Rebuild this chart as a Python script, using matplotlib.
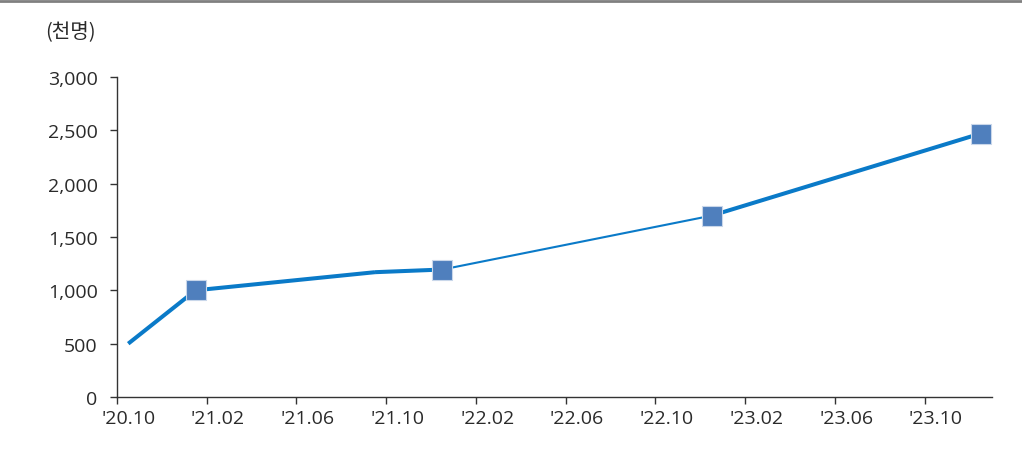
import pandas as pd
import matplotlib
matplotlib.use("Agg")
import matplotlib.pyplot as plt

plt.rcParams["font.family"] = ["Open Sans", "Noto Sans CJK KR", "DejaVu Sans"]

# data (thousand persons)
periods = ["2020-10", "2021-01", "2021-09", "2021-12", "2022-12", "2023-12"]
values = [500, 1000, 1170, 1195, 1700, 2470]
has_marker = [False, True, False, True, True, True]
seg_thick = [True, True, True, False, True]

tick_labels = ["'20.10", "'21.02", "'21.06", "'21.10", "'22.02",
               "'22.06", "'22.10", "'23.02", "'23.06", "'23.10"]
y_ticks = [0, 500, 1000, 1500, 2000, 2500, 3000]

LINE = "#0a7ac8"
MARK = "#4f7fbd"
TXT = "#2a2a2a"

start = pd.Period("2020-10", freq="M")
xs = [(pd.Period(p, freq="M") - start).n + 0.5 for p in periods]

fig = plt.figure(figsize=(10.22, 4.56), dpi=100)
ax = fig.add_axes([0.1145, 0.1272, 0.8561, 0.7018])

for i, thick in enumerate(seg_thick):
    ax.plot(xs[i:i + 2], values[i:i + 2], color=LINE,
            lw=2.9 if thick else 1.5, solid_capstyle="butt", zorder=2)

mx = [x for x, m in zip(xs, has_marker) if m]
my = [v for v, m in zip(values, has_marker) if m]
ax.plot(mx, my, ls="none", marker="s", ms=14, color=MARK,
        mec="#c9d7ea", mew=0.8, zorder=3)

ax.set_xlim(0, 39)
ax.set_ylim(0, 3000)
# tick marks sit between months, labels sit in the middle of the month
ax.set_xticks(range(0, 37, 4))
ax.set_xticklabels([])
ax.set_xticks([t + 0.5 for t in range(0, 37, 4)], minor=True)
ax.set_xticklabels(tick_labels, minor=True)
ax.set_yticks(y_ticks)
ax.set_yticklabels([f"{v:,}" for v in y_ticks])

for s in ["top", "right"]:
    ax.spines[s].set_visible(False)
for s in ["left", "bottom"]:
    ax.spines[s].set_color("#333333")
    ax.spines[s].set_linewidth(1.0)
ax.tick_params(axis="both", direction="out", length=5, width=1.0,
               color="#333333", labelsize=14, labelcolor=TXT)
ax.tick_params(axis="x", which="minor", length=0, pad=9,
               labelsize=14, labelcolor=TXT)
ax.tick_params(axis="y", pad=9)

fig.text(45 / 1022, 1 - 33 / 456, "(천명)", fontsize=14.5, color=TXT,
         ha="left", va="center", family=["Noto Sans CJK KR", "DejaVu Sans"])
fig.add_artist(plt.Line2D([0, 1], [1 - 2 / 456, 1 - 2 / 456],
                          transform=fig.transFigure, color="#808080", lw=2))

fig.savefig("out.png", dpi=100)
